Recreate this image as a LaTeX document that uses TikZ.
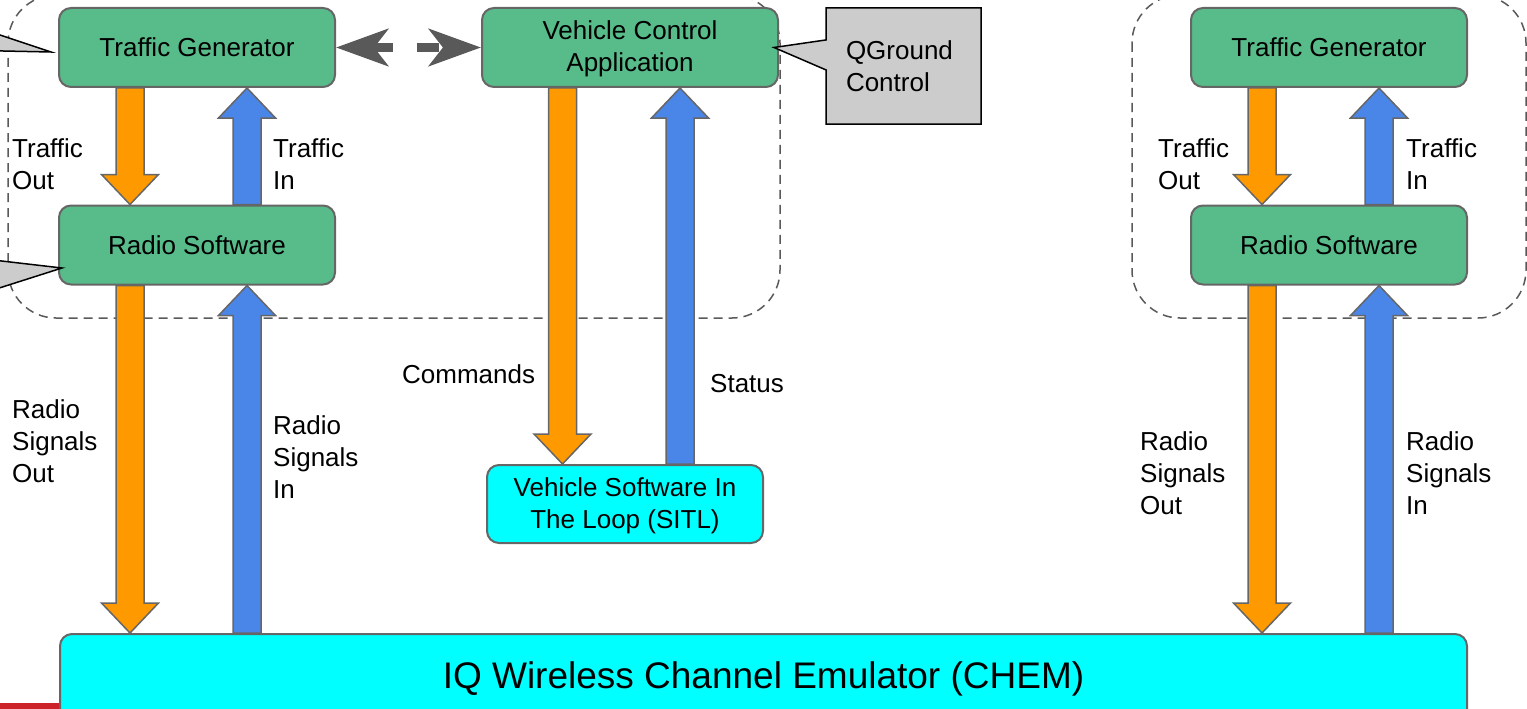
\documentclass[tikz,border=0pt]{standalone}
\usepackage{fontspec}
\setmainfont{Liberation Sans}
\usetikzlibrary{shapes.callouts, arrows.meta, calc}
\definecolor{boxgreen}{HTML}{57BB8A}
\definecolor{boxcyan}{HTML}{00FFFF}
\definecolor{sigorange}{HTML}{FF9900}
\definecolor{sigblue}{HTML}{4A86E8}
\definecolor{edgegray}{HTML}{666666}
\definecolor{linkgray}{HTML}{595959}
\definecolor{notegray}{HTML}{CCCCCC}
\definecolor{barred}{HTML}{CC2229}
\newcommand{\bodyfont}{\fontsize{26}{32}\selectfont}
\tikzstyle{greenbox} = [rectangle, rounded corners=12pt, minimum width=276pt, minimum height=79pt, text centered, align=center, fill=boxgreen, draw=edgegray, line width=2pt, font=\bodyfont]
\tikzstyle{cyanbox} = [greenbox, fill=boxcyan]
\tikzstyle{note} = [rectangle callout, callout pointer width=30pt, fill=notegray, draw=black, line width=1.5pt, text width=115pt, inner sep=20pt, minimum height=116pt, align=left, font=\bodyfont]
\tikzstyle{lbl} = [anchor=west, inner sep=0pt, align=left, font=\bodyfont]
\tikzstyle{group} = [draw=linkgray, line width=1.5pt, dash pattern=on 9pt off 6pt, rounded corners=48pt]
\tikzstyle{flow} = [draw=edgegray, line width=1.5pt]
\tikzstyle{linkarrow} = [linkgray, line width=9pt, dash pattern=on 22pt off 24pt, {Stealth[length=52pt,width=37pt,inset=14pt]}-{Stealth[length=52pt,width=37pt,inset=14pt]}]
% block arrow: colour, start, target, 1 = down / -1 = up
\newcommand{\sigarrow}[4]{%
  \draw[flow, fill=#1] let \p1=(#2), \p2=(#2 |- #3), \n1={#4*30} in
    ({\x1-14pt},\y1) -- ({\x1-14pt},{\y2+\n1 pt}) -- ({\x1-28.5pt},{\y2+\n1 pt}) -- (\x2,\y2)
    -- ({\x1+28.5pt},{\y2+\n1 pt}) -- ({\x1+14pt},{\y2+\n1 pt}) -- ({\x1+14pt},\y1) -- cycle;}

\begin{document}
\begin{tikzpicture}[x=1pt, y=-1pt, node distance=197.5pt]
        \useasboundingbox (0,0) rectangle (1527,709);
        \clip (0,0) rectangle (1527,709);
        \draw[group] (8,-5) rectangle (780,318);
        \draw[group] (1132,-5) rectangle (1526,318);
        \fill[barred] (0,703) rectangle (62,712);
        \node (tgL) [greenbox] at (197,47.5) {Traffic Generator};
        \node (rsL) [greenbox, below of=tgL] {Radio Software};
        \node (vca) [greenbox, minimum width=296pt, right of=tgL, xshift=235.5pt] {\rule{0pt}{22pt}Vehicle Control\\Application};
        \node (sitl) [cyanbox, minimum height=78pt, below of=vca, yshift=-259pt, xshift=-5pt] {\rule{0pt}{22pt}Vehicle Software In\\The Loop (SITL)};
        \node (tgR) [greenbox] at (1329,47.5) {Traffic Generator};
        \node (rsR) [greenbox, below of=tgR] {Radio Software};
        \node (chem) [cyanbox, minimum width=1407pt, minimum height=90pt, font=\fontsize{37}{44}\selectfont] at (763.5,679) {IQ Wireless Channel Emulator (CHEM)};
        \node (qgc) [note, callout absolute pointer={([xshift=-5pt]vca.east)}] at (903.5,66) {QGround\\Control};
        \node (noteA) [note, minimum height=60pt, callout absolute pointer={([xshift=-7pt,yshift=-4.5pt]tgL.west)}] at (-122.5,35) {};
        \node (noteB) [note, minimum height=60pt, callout absolute pointer={([xshift=4pt,yshift=-23pt]rsL.west)}] at (-84.5,275) {};
        \draw [linkarrow] (tgL.east) -- (vca.west);
        \coordinate (toL) at ([xshift=-67pt]tgL.south);
        \coordinate (tiL) at ([xshift=50pt]rsL.north);
        \coordinate (soL) at ([xshift=-67pt]rsL.south);
        \coordinate (siL) at (tiL |- chem.north);
        \coordinate (cmd) at ([xshift=-67.5pt]vca.south);
        \coordinate (sts) at ([xshift=55pt]sitl.north);
        \coordinate (toR) at ([xshift=-67pt]tgR.south);
        \coordinate (tiR) at ([xshift=50pt]rsR.north);
        \coordinate (soR) at ([xshift=-67pt]rsR.south);
        \coordinate (siR) at (tiR |- chem.north);
        \sigarrow{sigorange}{toL}{rsL.north}{1}
        \sigarrow{sigblue}{tiL}{tgL.south}{-1}
        \sigarrow{sigorange}{soL}{chem.north}{1}
        \sigarrow{sigblue}{siL}{rsL.south}{-1}
        \sigarrow{sigorange}{cmd}{sitl.north}{1}
        \sigarrow{sigblue}{sts}{vca.south}{-1}
        \sigarrow{sigorange}{toR}{rsR.north}{1}
        \sigarrow{sigblue}{tiR}{tgR.south}{-1}
        \sigarrow{sigorange}{soR}{chem.north}{1}
        \sigarrow{sigblue}{siR}{rsR.south}{-1}
        \node (lblTOL) [lbl] at (12,164) {Traffic\\Out};
        \node (lblTIL) [lbl] at (273,164) {Traffic\\In};
        \node (lblSOL) [lbl] at (12,441) {Radio\\Signals\\Out};
        \node (lblSIL) [lbl] at (273,457) {Radio\\Signals\\In};
        \node (lblCmd) [lbl] at (402,374) {Commands};
        \node (lblSts) [lbl] at (710,384) {Status};
        \node (lblTOR) [lbl] at (1158,164) {Traffic\\Out};
        \node (lblTIR) [lbl] at (1406,164) {Traffic\\In};
        \node (lblSOR) [lbl] at (1140,473) {Radio\\Signals\\Out};
        \node (lblSIR) [lbl] at (1406,473) {Radio\\Signals\\In};
    \end{tikzpicture}
\end{document}
